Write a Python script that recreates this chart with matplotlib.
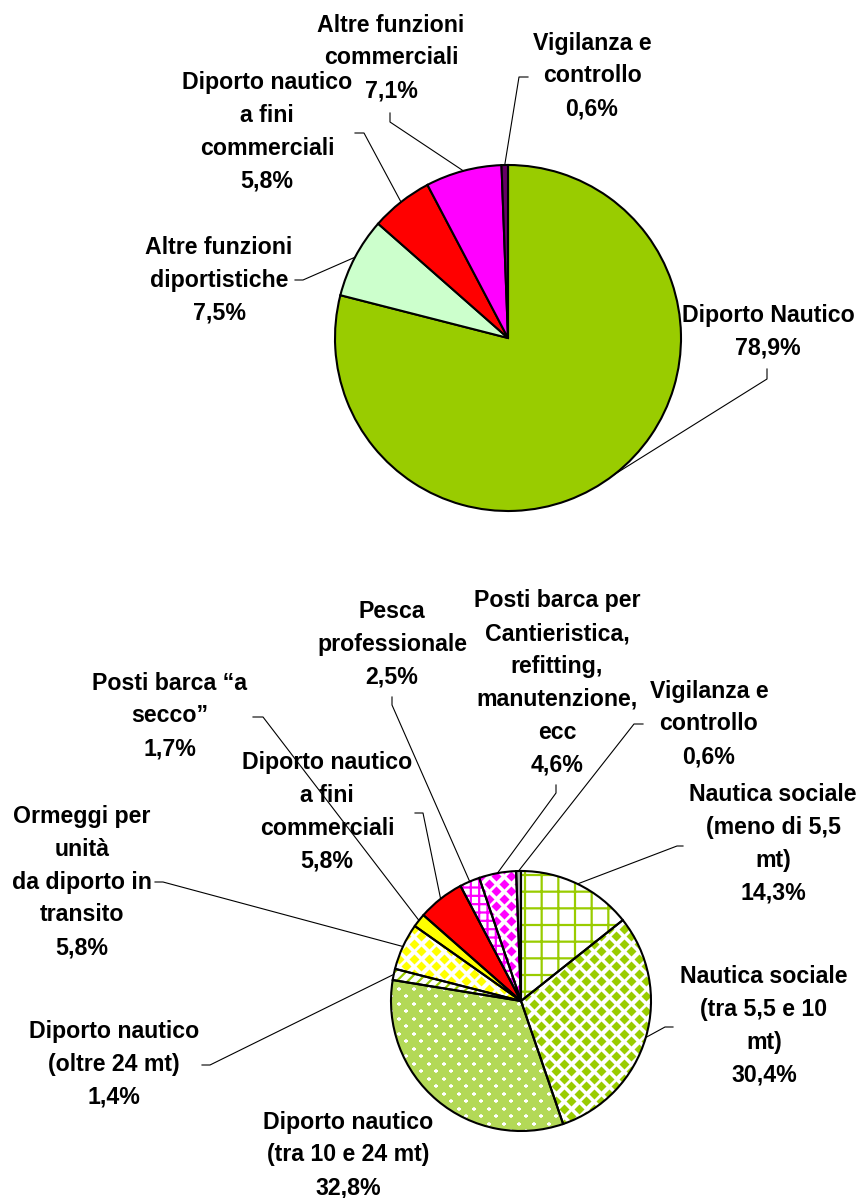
import numpy as np
import matplotlib
matplotlib.use('Agg')
import matplotlib.pyplot as plt

'''
Data:
'''
top_labels = ['Diporto Nautico', 'Altre funzioni\ndiportistiche',
              'Diporto nautico\na fini\ncommerciali',
              'Altre funzioni\ncommerciali', 'Vigilanza e\ncontrollo']
top_values = [78.9, 7.5, 5.8, 7.1, 0.6]
top_colors = ['#99CC00', '#CCFFCC', '#FF0000', '#FF00FF', '#660066']

bot_labels = ['Nautica sociale\n(meno di 5,5\nmt)',
              'Nautica sociale\n(tra 5,5 e 10\nmt)',
              'Diporto nautico\n(tra 10 e 24 mt)',
              'Diporto nautico\n(oltre 24 mt)',
              'Ormeggi per\nunità\nda diporto in\ntransito',
              'Posti barca \u201ca\nsecco\u201d',
              'Diporto nautico\na fini\ncommerciali',
              'Pesca\nprofessionale',
              'Posti barca per\nCantieristica,\nrefitting,\nmanutenzione,\necc',
              'Vigilanza e\ncontrollo']
bot_values = [14.3, 30.4, 32.8, 1.4, 5.8, 1.7, 5.8, 2.5, 4.6, 0.6]
# fill colour, hatch, hatch colour, texture
bot_fill = ['white', 'white', '#B3D957', 'white', 'white',
            '#FFFF00', '#FF0000', 'white', 'white', '#B4B4B4']
bot_hatch = ['+', None, None, '///', None, None, None, '++', None, None]
bot_hatch_col = ['#99CC00', None, None, '#99CC00', None, None, None,
                 '#FF00FF', None, None]
bot_texture = [None, 'diamond', 'dots', None, 'diamond', None, None, None,
               'diamond', None]
bot_tex_col = [None, '#99CC00', 'white', None, '#FFFF00', None, None, None,
               '#FF00FF', None]

'''
Layout (pixels, y from top):
'''
W, H = 865, 1198
top_center, top_r = (508, 338), 173
bot_center, bot_r = (521, 1001), 130

top_text_pos = [(768, 332), (219, 280), (267, 132), (391, 58), (592, 76)]
top_leaders = [[(767, 369), (767, 379)], [(295, 280), (303, 280)],
               [(355, 133), (364, 133)], [(390, 113), (390, 122)],
               [(528, 77), (519, 77)]]

bot_text_pos = [(773, 844), (764, 1026), (348, 1155), (114, 1064),
                (82, 882), (170, 716), (327, 812), (392, 644),
                (557, 683), (709, 724)]
bot_leaders = [[(683, 846), (677, 846)], [(673, 1027), (665, 1027)], None,
               [(202, 1065), (210, 1065)], [(155, 882), (163, 882)],
               [(253, 717), (263, 717)], [(415, 813), (423, 813)],
               [(392, 697), (392, 705)], [(556, 785), (556, 793)],
               [(643, 724), (634, 724)]]

plt.rcParams['hatch.linewidth'] = 1.6
FONT = dict(family='Liberation Sans', weight='bold', size=16.7)


def P(x, y):
    return (x, H - y)


def pct(v):
    return ('%.1f' % v).replace('.', ',') + '%'


def wedge_point(w):
    a = np.deg2rad((w.theta1 + w.theta2) / 2)
    return (w.center[0] + w.r * np.cos(a), w.center[1] + w.r * np.sin(a))


def lattice(center, r, s):
    g = np.arange(-r - s, r + s, s)
    gx, gy = np.meshgrid(g, g)
    x = np.concatenate([gx.ravel(), gx.ravel() + s / 2]) + center[0]
    y = np.concatenate([gy.ravel(), gy.ravel() + s / 2]) + center[1]
    return x, y


def labels_and_leaders(ax, wedges, labels, values, pos, leaders):
    for w, lab, v, p, ld in zip(wedges, labels, values, pos, leaders):
        ax.text(*P(*p), lab + '\n' + pct(v), ha='center', va='center',
                multialignment='center', linespacing=1.55, zorder=5, **FONT)
        if ld is None:
            continue
        pts = [P(*q) for q in ld] + [wedge_point(w)]
        xs, ys = zip(*pts)
        ax.plot(xs, ys, color='black', lw=0.8, zorder=4)


fig = plt.figure(figsize=(W / 100, H / 100), dpi=100)
ax = fig.add_axes([0, 0, 1, 1])

# top pie
tw, _ = ax.pie(top_values, colors=top_colors, startangle=90, counterclock=False,
               center=P(*top_center), radius=top_r,
               wedgeprops=dict(edgecolor='black', linewidth=1.5))
labels_and_leaders(ax, tw, top_labels, top_values, top_text_pos, top_leaders)

# bottom pie: fills + hatches
bw, _ = ax.pie(bot_values, colors=bot_fill, startangle=90, counterclock=False,
               center=P(*bot_center), radius=bot_r,
               wedgeprops=dict(linewidth=0))
for w, h, hc, tex, tc in zip(bw, bot_hatch, bot_hatch_col, bot_texture, bot_tex_col):
    if h:
        w.set_edgecolor(hc)
        w.set_hatch(h)
    if tex == 'diamond':
        x, y = lattice(P(*bot_center), bot_r, 15)
        sc = ax.scatter(x, y, marker='D', s=26, c=tc, linewidths=0, zorder=2)
        sc.set_clip_path(w)
    elif tex == 'dots':
        x, y = lattice(P(*bot_center), bot_r, 15)
        sc = ax.scatter(x, y, marker='+', s=12, c=tc, linewidths=1.1, zorder=2)
        sc.set_clip_path(w)

# outlines on top
ow, _ = ax.pie(bot_values, startangle=90, counterclock=False,
               center=P(*bot_center), radius=bot_r,
               wedgeprops=dict(fill=False, edgecolor='black', linewidth=1.5,
                               zorder=3))
labels_and_leaders(ax, ow, bot_labels, bot_values, bot_text_pos, bot_leaders)

ax.set_xlim(0, W)
ax.set_ylim(0, H)
ax.set_aspect('equal')
ax.axis('off')

fig.savefig('out.png', dpi=100, facecolor='white')
